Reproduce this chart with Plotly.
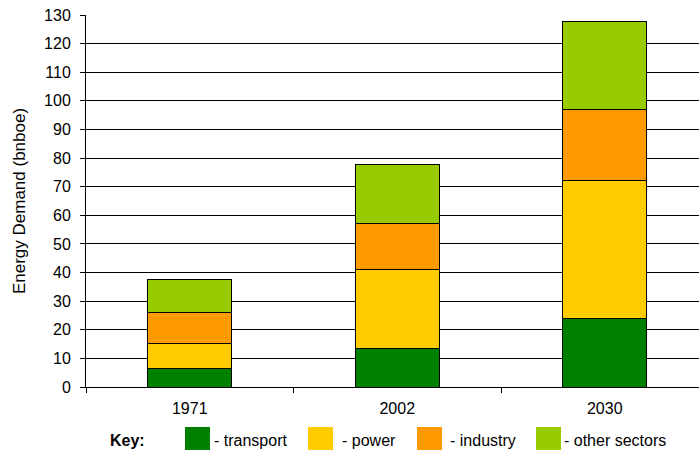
import plotly.graph_objects as go

years = ["1971", "2002", "2030"]
series_names = ["transport", "power", "industry", "other sectors"]
transport = [6.3, 13.3, 23.9]
power = [8.9, 27.6, 48.4]
industry = [10.8, 16.2, 24.8]
other = [11.7, 20.6, 30.7]
colors = ["#008000", "#FFCC00", "#FF9900", "#99CC00"]
y_ticks = list(range(0, 131, 10))

W, H = 699, 450
L, R, T, B = 86, 0, 15, 63
plot_w = W - L - R
plot_h = H - T - B
FONT = "Liberation Sans, Arial, sans-serif"

fig = go.Figure()
for name, vals, col in zip(series_names, [transport, power, industry, other], colors):
    fig.add_trace(go.Bar(
        x=years, y=vals, name=name, width=0.405,
        marker=dict(color=col, line=dict(color="black", width=1)),
        showlegend=False,
    ))

def px_x(px):
    return (px - L) / plot_w

def px_y(py):
    return (H - B - py) / plot_h

shapes = []
annotations = []
sq_left = [185, 308, 417, 536]
txt_left = [212, 340, 448, 562]
for i, name in enumerate(series_names):
    shapes.append(dict(type="rect", xref="paper", yref="paper",
                       x0=px_x(sq_left[i]), x1=px_x(sq_left[i] + 25),
                       y0=px_y(450), y1=px_y(427),
                       fillcolor=colors[i], line=dict(width=0)))
    annotations.append(dict(xref="paper", yref="paper", x=px_x(txt_left[i]), y=px_y(440),
                            xanchor="left", yanchor="middle", showarrow=False,
                            text="- " + name, font=dict(size=16, color="black", family=FONT)))
annotations.append(dict(xref="paper", yref="paper", x=px_x(108), y=px_y(440),
                        xanchor="left", yanchor="middle", showarrow=False,
                        text="<b>Key:</b>", font=dict(size=16, color="black", family=FONT)))

fig.update_layout(
    width=W, height=H,
    margin=dict(l=L, r=R, t=T, b=B, pad=0),
    barmode="stack",
    plot_bgcolor="white", paper_bgcolor="white",
    font=dict(family=FONT, size=16, color="black"),
    shapes=shapes, annotations=annotations,
    xaxis=dict(
        type="category", range=[-0.5, -0.5 + plot_w / 207.5],
        showline=True, linecolor="black", linewidth=1,
        ticks="outside", ticklen=5, tickcolor="black", tickson="boundaries",
        showgrid=False, ticklabelstandoff=7,
        tickfont=dict(size=16, family=FONT),
    ),
    yaxis=dict(
        range=[0, 130], tickvals=y_ticks,
        showline=True, linecolor="black", linewidth=1,
        ticks="outside", ticklen=5, tickcolor="black",
        showgrid=True, gridcolor="black", gridwidth=1,
        zeroline=False, ticklabelstandoff=6,
        tickfont=dict(size=16, family=FONT),
        title=dict(text="Energy Demand (bnboe)", font=dict(size=17, family=FONT), standoff=14),
    ),
)

fig.write_html("out.html")
